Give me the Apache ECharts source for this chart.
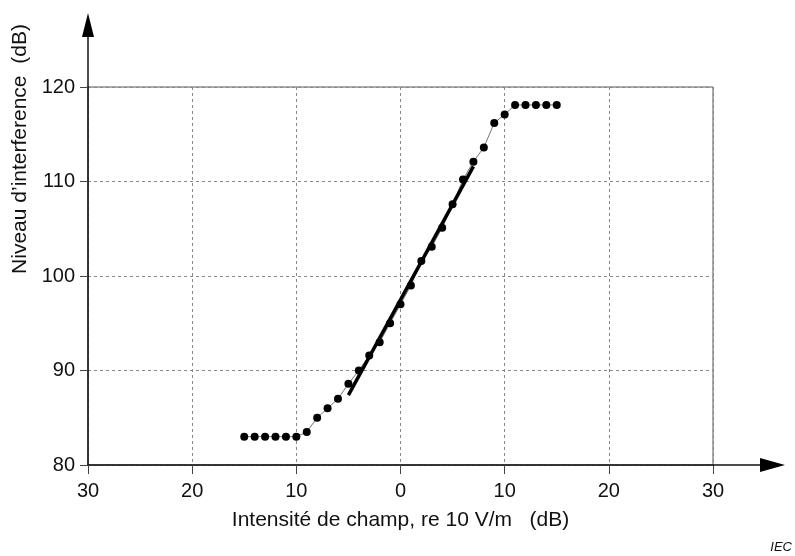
<!DOCTYPE html>
<html>
<head>
<meta charset="utf-8">
<script src="https://cdn.jsdelivr.net/npm/echarts@6/dist/echarts.min.js"></script>
<style>
html,body{margin:0;padding:0;background:#fff;}
#chart{width:795px;height:556px;}
</style>
</head>
<body>
<div id="chart"></div>
<script>
// ---- data ----
var fieldStrength = [-15,-14,-13,-12,-11,-10,-9,-8,-7,-6,-5,-4,-3,-2,-1,0,1,2,3,4,5,6,7,8,9,10,11,12,13,14,15];
var interferenceLevel = [83,83,83,83,83,83,83.5,85,86,87,88.6,90,91.6,93,95,97,99,101.6,103.1,105.1,107.6,110.2,112.1,113.6,116.2,117.1,118.1,118.1,118.1,118.1,118.1];
var fitX = [-5, 7];
var fitY = [87.4, 111.6];
var xTickValues = [-30,-20,-10,0,10,20,30];
var xTickLabels = ['30','20','10','0','10','20','30'];
var yTickLabels = ['80','90','100','110','120'];
var xTitle = 'Intensité de champ, re 10 V/m   (dB)';
var yTitle = 'Niveau d\u2019interference  (dB)';
var sourceNote = 'IEC';

var FONT = '"Liberation Sans", Arial, sans-serif';
var chart = echarts.init(document.getElementById('chart'), null, {renderer:'canvas'});

var option = {
  animation: false,
  backgroundColor: '#fff',
  grid: {left: 88, right: 82, top: 87, bottom: 91, show: true, borderColor: '#555', borderWidth: 1, backgroundColor: 'transparent'},
  xAxis: {
    type: 'value', min: -30, max: 30, interval: 10,
    axisLine: {show: true, onZero: false, lineStyle: {color: '#111', width: 1.5}},
    axisTick: {show: true, inside: false, length: 9, lineStyle: {color: '#444', width: 1}},
    axisLabel: {
      fontSize: 20, color: '#111', fontFamily: FONT, margin: 16,
      formatter: function (v) { var i = xTickValues.indexOf(v); return i >= 0 ? xTickLabels[i] : ''; }
    },
    splitLine: {show: true, lineStyle: {color: '#888', type: [3, 3], width: 1}},
    name: xTitle, nameLocation: 'middle', nameGap: 45,
    nameTextStyle: {fontSize: 21, color: '#111', fontFamily: FONT}
  },
  yAxis: {
    type: 'value', min: 80, max: 120, interval: 10,
    axisLine: {show: true, onZero: false, lineStyle: {color: '#111', width: 1.5}},
    axisTick: {show: true, inside: false, length: 8, lineStyle: {color: '#444', width: 1}},
    axisLabel: {
      fontSize: 20, color: '#111', fontFamily: FONT, margin: 13,
      formatter: function (v) { var i = Math.round((v - 80) / 10); return yTickLabels[i] || ''; }
    },
    splitLine: {show: true, lineStyle: {color: '#888', type: [3, 3], width: 1}}
  },
  series: [
    {
      type: 'line',
      data: fieldStrength.map(function (x, i) { return [x, interferenceLevel[i]]; }),
      symbol: 'circle', symbolSize: 8,
      lineStyle: {color: '#777', width: 1},
      itemStyle: {color: '#000'},
      z: 3
    },
    {
      type: 'line',
      data: fitX.map(function (x, i) { return [x, fitY[i]]; }),
      symbol: 'none',
      lineStyle: {color: '#000', width: 3.5},
      z: 4
    }
  ]
};
chart.setOption(option);

var p0 = chart.convertToPixel({gridIndex: 0}, [-30, 80]);
var p1 = chart.convertToPixel({gridIndex: 0}, [30, 120]);
chart.setOption({
  graphic: [
    {type: 'line', shape: {x1: p1[0], y1: p0[1], x2: p1[0] + 50, y2: p0[1]}, style: {stroke: '#111', lineWidth: 1.5}, z: 10},
    {type: 'polygon', shape: {points: [[p1[0] + 47, p0[1] - 7], [p1[0] + 72, p0[1]], [p1[0] + 47, p0[1] + 7]]}, style: {fill: '#000'}, z: 10},
    {type: 'line', shape: {x1: p0[0], y1: p1[1], x2: p0[0], y2: p1[1] - 52}, style: {stroke: '#111', lineWidth: 1.5}, z: 10},
    {type: 'polygon', shape: {points: [[p0[0] - 6, p1[1] - 50], [p0[0], p1[1] - 74], [p0[0] + 6, p1[1] - 50]]}, style: {fill: '#000'}, z: 10},
    {type: 'text', x: 20, y: 149, rotation: Math.PI / 2,
      style: {text: yTitle, fontSize: 21, fontFamily: FONT, fill: '#111', textAlign: 'center', textVerticalAlign: 'middle'}},
    {type: 'text', right: 3, bottom: 2,
      style: {text: sourceNote, fontSize: 13, fontStyle: 'italic', fontFamily: FONT, fill: '#111'}}
  ]
});
</script>
</body>
</html>
